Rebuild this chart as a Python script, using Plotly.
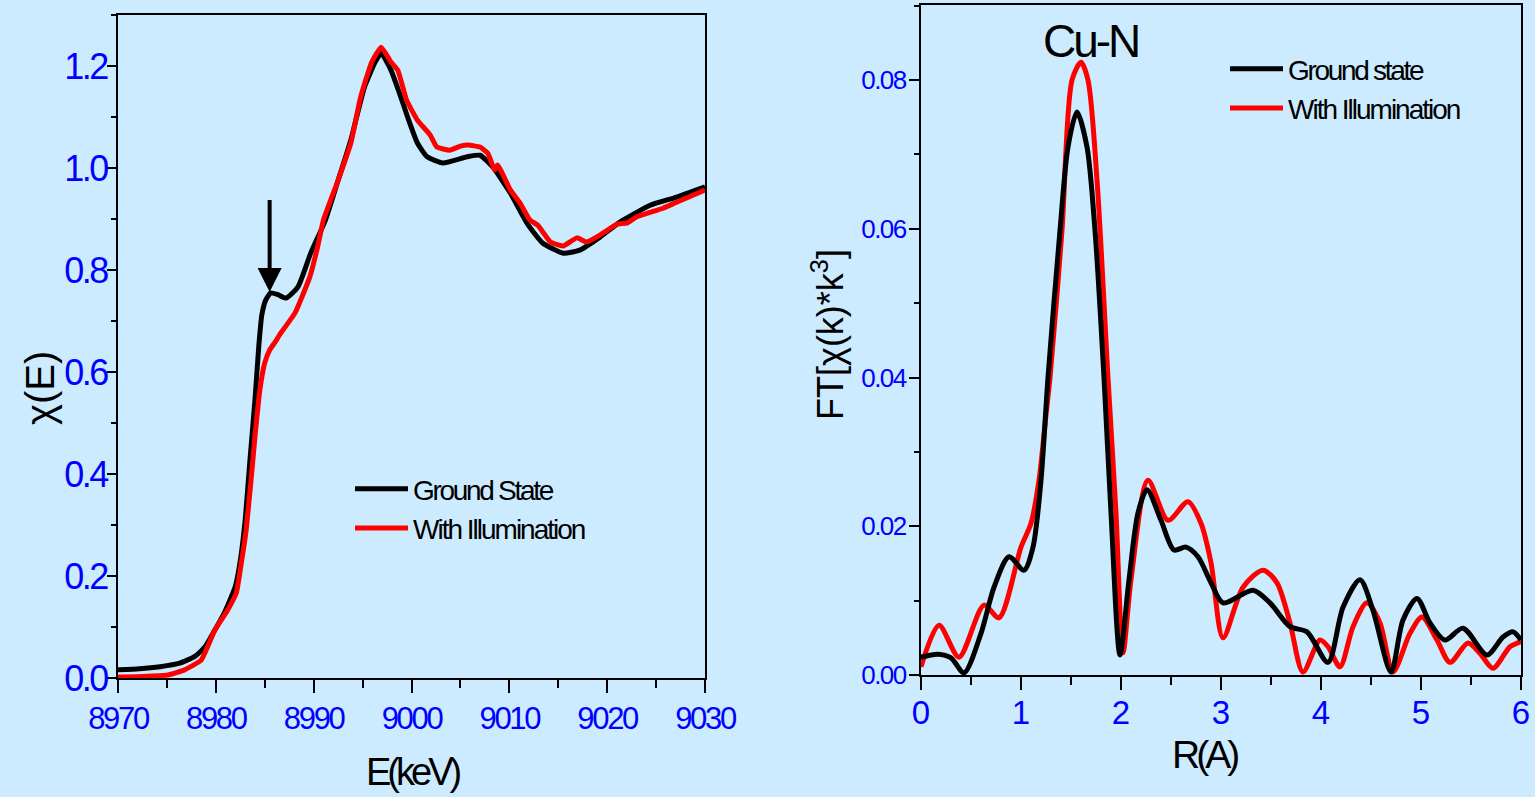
import plotly.graph_objects as go

# ---------------- data: XANES (left) ----------------
E_ground = [8970, 8972.2, 8974.3, 8976.3, 8977.9, 8978.9, 8979.9, 8980.9, 8982.0, 8982.5,
            8983.0, 8983.5, 8984.0, 8984.4, 8984.7, 8985.1, 8985.6, 8986.3, 8987.2, 8988.4,
            8989.7, 8991.2, 8992.5, 8993.8, 8995.2, 8996.3, 8996.9, 8997.9, 8998.8, 8999.6,
            9000.6, 9001.6, 9003.2, 9005.7, 9007.0, 9008.3, 9010.1, 9011.8, 9013.4, 9015.5,
            9017.2, 9019.3, 9021.3, 9024.4, 9027.1, 9030]
mu_ground = [0.016, 0.018, 0.022, 0.029, 0.043, 0.061, 0.094, 0.129, 0.18, 0.23,
             0.31, 0.43, 0.545, 0.653, 0.712, 0.741, 0.755, 0.752, 0.745, 0.767,
             0.833, 0.898, 0.976, 1.055, 1.159, 1.208, 1.225, 1.192, 1.145, 1.10,
             1.049, 1.022, 1.010, 1.022, 1.025, 1.002, 0.951, 0.892, 0.853, 0.833,
             0.839, 0.865, 0.894, 0.927, 0.943, 0.963]

E_illum = [8970, 8972.5, 8975.1, 8976.8, 8978.5, 8979.9, 8981.2, 8982.1, 8982.6, 8983.1,
           8983.6, 8984.0, 8984.5, 8985.0, 8985.5, 8986.0, 8986.7, 8988.1, 8989.6, 8990.4,
           8991.0, 8992.5, 8993.8, 8994.8, 8995.9, 8996.9, 8997.9, 8998.6, 8999.5, 9000.6,
           9001.9, 9002.6, 9003.9, 9005.0, 9005.8, 9007.0, 9007.8, 9008.5, 9008.8, 9010.1,
           9011.1, 9012.1, 9012.9, 9014.2, 9015.5, 9016.9, 9017.9, 9019.3, 9021.0, 9022.0,
           9023.0, 9025.7, 9027.1, 9030]
mu_illum = [0.002, 0.003, 0.006, 0.016, 0.035, 0.094, 0.133, 0.167, 0.225, 0.29,
            0.388, 0.473, 0.565, 0.618, 0.643, 0.657, 0.678, 0.716, 0.786, 0.845,
            0.898, 0.976, 1.049, 1.139, 1.206, 1.237, 1.208, 1.192, 1.133, 1.094,
            1.065, 1.041, 1.035, 1.043, 1.045, 1.041, 1.029, 0.996, 1.006, 0.957,
            0.931, 0.898, 0.888, 0.855, 0.847, 0.863, 0.855, 0.869, 0.890, 0.892,
            0.904, 0.921, 0.933, 0.957]

# ---------------- data: FT-EXAFS (right) ----------------
R_ground = [0, 0.17, 0.30, 0.43, 0.6, 0.73, 0.88, 1.03, 1.12, 1.20, 1.27, 1.39, 1.47, 1.56,
            1.66, 1.74, 1.83, 1.90, 1.99, 2.08, 2.17, 2.26, 2.40, 2.53, 2.65, 2.77, 2.90,
            3.02, 3.32, 3.49, 3.69, 3.86, 4.07, 4.22, 4.39, 4.52, 4.70, 4.82, 4.96, 5.09,
            5.24, 5.42, 5.66, 5.82, 5.92, 6.0]
ft_ground = [0.0024, 0.0028, 0.0023, 0.0003, 0.0056, 0.0118, 0.0159, 0.0141, 0.0172, 0.0262,
             0.040, 0.0598, 0.071, 0.0757, 0.071, 0.0598, 0.040, 0.0218, 0.0027, 0.0128,
             0.0218, 0.0249, 0.0208, 0.0168, 0.0172, 0.0159, 0.0124, 0.0097, 0.0114, 0.0097,
             0.0065, 0.0058, 0.0017, 0.0091, 0.0128, 0.0087, 0.0004, 0.0074, 0.0103, 0.0070,
             0.0047, 0.0063, 0.0027, 0.0051, 0.0058, 0.0047]

R_illum = [0, 0.18, 0.38, 0.63, 0.78, 1.0, 1.10, 1.18, 1.25, 1.29, 1.41, 1.51, 1.60, 1.67,
           1.76, 1.87, 1.95, 2.02, 2.10, 2.27, 2.47, 2.67, 2.80, 2.90, 3.02, 3.22, 3.42,
           3.56, 3.69, 3.82, 3.99, 4.07, 4.19, 4.32, 4.46, 4.59, 4.72, 4.89, 5.01, 5.16,
           5.29, 5.47, 5.59, 5.72, 5.89, 6.0]
ft_illum = [0.0011, 0.0067, 0.0024, 0.0094, 0.0077, 0.0172, 0.0204, 0.0262, 0.035, 0.040,
            0.0598, 0.080, 0.0824, 0.080, 0.0666, 0.040, 0.0218, 0.003, 0.0128, 0.0262,
            0.0208, 0.0233, 0.0204, 0.0151, 0.005, 0.0118, 0.0141, 0.0124, 0.0070, 0.0004,
            0.0047, 0.0038, 0.0011, 0.0065, 0.0097, 0.0070, 0.0004, 0.0056, 0.0078, 0.0047,
            0.0017, 0.0043, 0.0029, 0.0009, 0.0038, 0.0045]

# tick labels
xt_left = [8970, 8980, 8990, 9000, 9010, 9020, 9030]
yt_left = [0, 0.2, 0.4, 0.6, 0.8, 1.0, 1.2]
xt_right = [0, 1, 2, 3, 4, 5, 6]
yt_right = [0, 0.02, 0.04, 0.06, 0.08]

# ---------------- styling ----------------
BG = "#CCEBFF"
FONT = "Liberation Sans, Arial, sans-serif"
W, H = 1535, 797


def tight(s, ls):
    return f'<span style="letter-spacing:{ls}px">{s}</span>'


fig = go.Figure()

fig.add_trace(go.Scatter(x=E_ground, y=mu_ground, mode="lines", name=tight("Ground State", -2.3),
                         line=dict(color="black", width=5, shape="spline", smoothing=0.5),
                         xaxis="x", yaxis="y", legend="legend"))
fig.add_trace(go.Scatter(x=E_illum, y=mu_illum, mode="lines", name=tight("With Illumination", -2.0),
                         line=dict(color="#FF0000", width=5, shape="spline", smoothing=0.4),
                         xaxis="x", yaxis="y", legend="legend"))
fig.add_trace(go.Scatter(x=R_illum, y=ft_illum, mode="lines", name=tight("With Illumination", -2.0),
                         line=dict(color="#FF0000", width=5, shape="spline", smoothing=0.8),
                         xaxis="x2", yaxis="y2", legend="legend2"))
fig.add_trace(go.Scatter(x=R_ground, y=ft_ground, mode="lines", name=tight("Ground state", -2.3),
                         line=dict(color="black", width=5, shape="spline", smoothing=0.8),
                         xaxis="x2", yaxis="y2", legend="legend2"))

axis_common = dict(showline=True, linecolor="black", linewidth=2, mirror=True,
                   ticks="outside", tickcolor="black", tickwidth=2, showgrid=False,
                   zeroline=False, automargin=False)

fig.update_layout(
    width=W, height=H,
    margin=dict(l=0, r=0, t=0, b=0, autoexpand=False),
    paper_bgcolor=BG, plot_bgcolor=BG,
    xaxis=dict(domain=[118 / W, 705 / W], range=[8970, 9030], anchor="y",
               tickvals=xt_left, ticktext=[tight(str(v), -2.3) for v in xt_left], ticklen=13,
               minor=dict(dtick=5, ticks="outside", ticklen=8, tickcolor="black", tickwidth=2),
               tickfont=dict(family=FONT, size=31, color="#0000FF"),
               ticklabelstandoff=-1, **axis_common),
    yaxis=dict(domain=[1 - 678 / H, 1 - 15 / H], range=[0, 1.3], anchor="x",
               tickvals=yt_left, ticktext=[tight(f"{v:.1f}", -2.5) for v in yt_left], ticklen=9,
               minor=dict(dtick=0.1, ticks="outside", ticklen=5, tickcolor="black", tickwidth=2),
               tickfont=dict(family=FONT, size=36, color="#0000FF"),
               ticklabelstandoff=-7, **axis_common),
    xaxis2=dict(domain=[921 / W, 1521 / W], range=[0, 6], anchor="y2",
                tickvals=xt_right, ticktext=[str(v) for v in xt_right], ticklen=13,
                minor=dict(dtick=0.5, ticks="outside", ticklen=8, tickcolor="black", tickwidth=2),
                tickfont=dict(family=FONT, size=33, color="#0000FF"),
                ticklabelstandoff=-6, **axis_common),
    yaxis2=dict(domain=[1 - 675 / H, 1 - 5 / H], range=[0, 0.0901], anchor="x2",
                tickvals=yt_right, ticktext=[tight(f"{v:.2f}", -1.5) for v in yt_right], ticklen=10,
                minor=dict(dtick=0.01, ticks="outside", ticklen=5, tickcolor="black", tickwidth=2),
                tickfont=dict(family=FONT, size=26, color="#0000FF"),
                ticklabelstandoff=-2, **axis_common),
    legend=dict(x=350 / W, y=1 - 464 / H, xanchor="left", yanchor="top",
                bgcolor="rgba(0,0,0,0)", font=dict(family=FONT, size=28, color="black"),
                itemwidth=53, tracegroupgap=0),
    legend2=dict(x=1225 / W, y=1 - 44 / H, xanchor="left", yanchor="top",
                 bgcolor="rgba(0,0,0,0)", font=dict(family=FONT, size=28, color="black"),
                 itemwidth=53, traceorder="reversed"),
    showlegend=True,
)

# arrow marking the pre-edge shoulder
fig.add_annotation(x=8985.5, y=0.757, ax=8985.5, ay=0.94, xref="x", yref="y",
                   axref="x", ayref="y", text="", showarrow=True,
                   arrowhead=2, arrowsize=1.2, arrowwidth=4, arrowcolor="black")

# label of the main shell
fig.add_annotation(x=1.69, y=0.0853, xref="x2", yref="y2", text=tight("Cu-N", -3),
                   showarrow=False, font=dict(family=FONT, size=46, color="black"))

# axis titles
title_font = dict(family=FONT, size=38, color="black")
fig.add_annotation(x=413 / W, y=1 - 772 / H, xref="paper", yref="paper", text=tight("E(keV)", -4),
                   xanchor="center", yanchor="middle", showarrow=False, font=title_font)
fig.add_annotation(x=40 / W, y=1 - 388 / H, xref="paper", yref="paper", text="χ(E)",
                   xanchor="center", yanchor="middle", textangle=-90, showarrow=False,
                   font=dict(family=FONT, size=40, color="black"))
fig.add_annotation(x=1205 / W, y=1 - 754 / H, xref="paper", yref="paper", text=tight("R(A)", -4),
                   xanchor="center", yanchor="middle", showarrow=False,
                   font=dict(family=FONT, size=39, color="black"))
fig.add_annotation(x=828 / W, y=1 - 335 / H, xref="paper", yref="paper",
                   text="FT[χ(k)*k<sup>3</sup>]", textangle=-90, showarrow=False,
                   xanchor="center", yanchor="middle",
                   font=dict(family=FONT, size=36, color="black"))

fig.write_html("out.html", config={"displayModeBar": False},
               post_script="document.body.style.margin='0';")
